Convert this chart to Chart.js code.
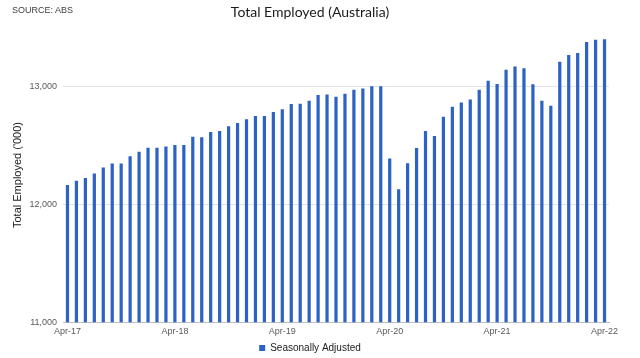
<!DOCTYPE html>
<html>
<head>
<meta charset="utf-8">
<script src="https://cdn.jsdelivr.net/npm/chart.js@4/dist/chart.umd.min.js"></script>
<style>
  html, body { margin: 0; padding: 0; background: #fff; }
  #wrap { position: relative; width: 640px; height: 358px; }
  #source { position: absolute; left: 12px; top: 5px; font: 9px "Liberation Sans", Arial, sans-serif; color: #404040; }
</style>
</head>
<body>
<div id="wrap">
  <canvas id="barChart" width="640" height="358"></canvas>
  <div id="source">SOURCE: ABS</div>
</div>
<script>
var labels = [
  'Apr-17','May-17','Jun-17','Jul-17','Aug-17','Sep-17','Oct-17','Nov-17','Dec-17','Jan-18','Feb-18','Mar-18',
  'Apr-18','May-18','Jun-18','Jul-18','Aug-18','Sep-18','Oct-18','Nov-18','Dec-18','Jan-19','Feb-19','Mar-19',
  'Apr-19','May-19','Jun-19','Jul-19','Aug-19','Sep-19','Oct-19','Nov-19','Dec-19','Jan-20','Feb-20','Mar-20',
  'Apr-20','May-20','Jun-20','Jul-20','Aug-20','Sep-20','Oct-20','Nov-20','Dec-20','Jan-21','Feb-21','Mar-21',
  'Apr-21','May-21','Jun-21','Jul-21','Aug-21','Sep-21','Oct-21','Nov-21','Dec-21','Jan-22','Feb-22','Mar-22',
  'Apr-22'
];

// seasonally adjusted, '000 persons
var employed = [
  12165, 12202, 12225, 12262, 12313, 12348, 12348, 12410, 12447, 12481, 12481, 12493,
  12504, 12504, 12575, 12570, 12615, 12624, 12664, 12692, 12724, 12750, 12752, 12784,
  12809, 12852, 12855, 12880, 12929, 12934, 12915, 12940, 12974, 12985, 13003, 13003,
  12390, 12128, 12350, 12479, 12624, 12581, 12744, 12829, 12866, 12892, 12974, 13051,
  13023, 13143, 13171, 13157, 13020, 12880, 12838, 13211, 13268, 13285, 13379, 13399,
  13402
];

var yTicks = [11000, 12000, 13000];

var tickFont = { family: '"Liberation Sans", Arial, sans-serif', size: 9 };

new Chart(document.getElementById('barChart').getContext('2d'), {
  type: 'bar',
  data: {
    labels: labels,
    datasets: [{
      label: 'Seasonally Adjusted',
      data: employed,
      backgroundColor: '#2b62c3',
      borderWidth: 0,
      barPercentage: 0.36,
      categoryPercentage: 1.0
    }]
  },
  options: {
    responsive: false,
    animation: false,
    layout: { padding: { left: 11, right: 31, top: 4, bottom: -5 } },
    plugins: {
      title: {
        display: true,
        text: 'Total Employed (Australia)',
        color: '#1a1a1a',
        font: { family: 'Lato, "Open Sans", sans-serif', size: 14, weight: 'normal' },
        padding: { top: 0, bottom: 7 }
      },
      legend: {
        display: true,
        position: 'bottom',
        labels: {
          usePointStyle: true,
          pointStyle: 'rect',
          boxWidth: 6,
          boxHeight: 6,
          color: '#1a1a1a',
          font: { family: '"Liberation Sans", Arial, sans-serif', size: 10 },
          padding: 2
        }
      },
      tooltip: { enabled: false }
    },
    scales: {
      x: {
        grid: { display: false, drawTicks: false },
        border: { color: '#bfbfbf' },
        ticks: {
          autoSkip: false,
          maxRotation: 0,
          color: '#595959',
          font: tickFont,
          padding: 4,
          callback: function (v, i) { return i % 12 === 0 ? labels[i] : ''; }
        }
      },
      y: {
        min: 11000,
        max: 13500,
        afterBuildTicks: function (scale) {
          scale.ticks = yTicks.map(function (v) { return { value: v }; });
        },
        afterFit: function (scale) { scale.width = 52; },
        grid: { color: '#e3e3e3', drawTicks: false },
        border: { display: false },
        ticks: {
          color: '#595959',
          font: tickFont,
          padding: 6,
          callback: function (v) { return v.toLocaleString('en-US'); }
        },
        title: {
          display: true,
          text: "Total Employed ('000)",
          color: '#1a1a1a',
          font: { family: '"Liberation Sans", Arial, sans-serif', size: 11 },
          padding: { top: 0, bottom: 0 }
        }
      }
    }
  }
});
</script>
</body>
</html>
